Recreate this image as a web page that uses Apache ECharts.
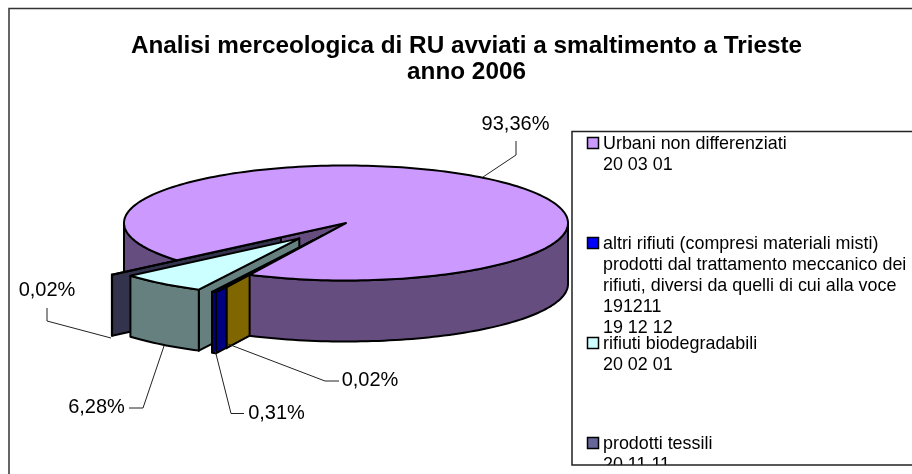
<!DOCTYPE html>
<html>
<head>
<meta charset="utf-8">
<style>
html, body { margin: 0; padding: 0; background: #fff; }
#chart { width: 912px; height: 474px; }
</style>
<script src="https://cdn.jsdelivr.net/npm/echarts@6/dist/echarts.min.js"></script>
</head>
<body>
<div id="chart"></div>
<script>
// dati
const titleLines = ['Analisi merceologica di RU avviati a smaltimento a Trieste', 'anno 2006'];
const sliceValues = [93.36, 0.02, 0.31, 6.28, 0.02];
const legendNames = [
    'Urbani non differenziati\n20 03 01',
    'altri rifiuti (compresi materiali misti)\nprodotti dal trattamento meccanico dei\nrifiuti, diversi da quelli di cui alla voce\n191211\n19 12 12',
    'rifiuti biodegradabili\n20 02 01',
    'prodotti tessili\n20 11 11'
];

// aspetto delle fette, nello stesso ordine di sliceValues
const sliceColors = ['#CC99FF', '#FFCC00', '#0000FF', '#CCFFFF', '#666699'];
const sliceExplode = [0, 0.24, 0.34, 0.34, 0.385];
const legendColors = ['#CC99FF', '#0000FF', '#CCFFFF', '#666699'];

// geometria della torta
const pie = { cx: 346, cy: 223, rx: 222, ry: 57.5, depth: 61, start: 229.6 };
const FONT = '"Liberation Sans", Arial, sans-serif';

// etichette: centro del testo e linea guida
const labelLayout = [
    { x: 515.5, y: 124, leader: [[483, 177], [516, 155], [516, 141]] },
    { x: 370, y: 380, leader: [[228, 344], [325, 381], [339, 381]] },
    { x: 276.5, y: 413, leader: [[215, 350], [231, 413.5], [244, 413.5]] },
    { x: 96.5, y: 407, leader: [[164, 346], [143, 408], [129, 408]] },
    { x: 47, y: 290, leader: [[111, 338], [47, 321], [47, 308]] }
];

function formatLabel(value) {
    return value.toFixed(2).replace('.', ',') + '%';
}

// colore della parete: metà luminosità
function shade(hex) {
    const n = parseInt(hex.slice(1), 16);
    const half = c => Math.round(c / 2);
    return `rgb(${half(n >> 16)},${half((n >> 8) & 255)},${half(n & 255)})`;
}

// angoli di ogni fetta, in gradi in senso orario dall'alto
const total = sliceValues.reduce((a, b) => a + b, 0);
const sliceAngles = [];
let cursor = pie.start;
sliceValues.forEach(v => {
    const next = cursor + v / total * 360;
    sliceAngles.push([cursor, next]);
    cursor = next;
});

function project(deg, r, off) {
    const a = deg * Math.PI / 180;
    return [pie.cx + off[0] + pie.rx * r * Math.sin(a), pie.cy + off[1] - pie.ry * r * Math.cos(a)];
}

function arcPoints(from, to, off) {
    const pts = [];
    const steps = Math.max(1, Math.ceil((to - from) / 1.5));
    for (let i = 0; i <= steps; i++) {
        pts.push(project(from + (to - from) * i / steps, 1, off));
    }
    return pts;
}

function poly(points, fill, z2) {
    return {
        type: 'polygon',
        z2: z2,
        shape: { points: points },
        style: { fill: fill, stroke: '#000', lineWidth: 2, lineJoin: 'round' }
    };
}

function renderSlice(params) {
    const i = params.dataIndex;
    const [a0, a1] = sliceAngles[i];
    const mid = (a0 + a1) / 2 * Math.PI / 180;
    const e = sliceExplode[i];
    const off = [pie.rx * e * Math.sin(mid), -pie.ry * e * Math.cos(mid)];
    const apex = [pie.cx + off[0], pie.cy + off[1]];
    const down = p => [p[0], p[1] + pie.depth];
    const side = shade(sliceColors[i]);
    const z = i === 0 ? 1 : 20 - i;
    const children = [];

    // taglio radiale visibile
    if (Math.sin(a0 * Math.PI / 180) < 0) {
        const outer = project(a0, 1, off);
        children.push(poly([apex, outer, down(outer), down(apex)], side, z));
    }
    // parete esterna, solo la parte davanti
    [0, 1].forEach(k => {
        const lo = Math.max(a0, 90 + 360 * k);
        const hi = Math.min(a1, 270 + 360 * k);
        if (hi > lo) {
            const arc = arcPoints(lo, hi, off);
            const wallZ = i === 0 && k === 1 ? 50 : z;
            children.push(poly(arc.concat(arc.slice().reverse().map(down)), side, wallZ));
        }
    });
    // faccia superiore: quella grande copre i tagli delle fette staccate
    children.push(poly([apex].concat(arcPoints(a0, a1, off)), sliceColors[i], i === 0 ? 50 : z + 0.5));

    // etichetta e linea guida
    const lay = labelLayout[i];
    children.push({
        type: 'polyline',
        z2: 60,
        shape: { points: lay.leader },
        style: { fill: null, stroke: '#222', lineWidth: 1 }
    });
    children.push({
        type: 'text',
        z2: 60,
        style: {
            text: formatLabel(sliceValues[i]),
            x: lay.x,
            y: lay.y,
            align: 'center',
            verticalAlign: 'middle',
            font: '20px ' + FONT,
            fill: '#000'
        }
    });
    return { type: 'group', children: children };
}

// legenda e cornici
const legendGraphics = [];
legendNames.forEach((name, i) => {
    const top = 143 + i * 100;
    legendGraphics.push({
        type: 'rect',
        shape: { x: 587.5, y: top - 5.5, width: 11, height: 11 },
        style: { fill: legendColors[i], stroke: '#000', lineWidth: 1.5 }
    });
    legendGraphics.push({
        type: 'text',
        style: {
            text: name,
            x: 603,
            y: top - 9,
            font: '17.9px ' + FONT,
            lineHeight: 21,
            verticalAlign: 'top',
            fill: '#000'
        }
    });
});
// nasconde la riga tagliata sotto il riquadro
legendGraphics.push({ type: 'rect', shape: { x: 571, y: 465, width: 341, height: 9 }, style: { fill: '#fff' } });
legendGraphics.push({
    type: 'polyline',
    shape: { points: [[912, 131.5], [572, 131.5], [572, 465], [912, 465]] },
    style: { fill: null, stroke: '#222', lineWidth: 1.5 }
});
legendGraphics.push({
    type: 'polyline',
    shape: { points: [[912, 8.5], [9, 8.5], [9, 474]] },
    style: { fill: null, stroke: '#333', lineWidth: 1.5 }
});

const chart = echarts.init(document.getElementById('chart'));
chart.setOption({
    backgroundColor: '#fff',
    animation: false,
    title: {
        text: titleLines.join('\n'),
        left: 461.5,
        top: 28,
        textAlign: 'center',
        textStyle: { fontFamily: FONT, fontSize: 24.3, fontWeight: 'bold', color: '#000', lineHeight: 26 }
    },
    graphic: legendGraphics,
    series: [{
        type: 'custom',
        coordinateSystem: 'none',
        silent: true,
        renderItem: renderSlice,
        data: sliceValues
    }]
});
</script>
</body>
</html>
